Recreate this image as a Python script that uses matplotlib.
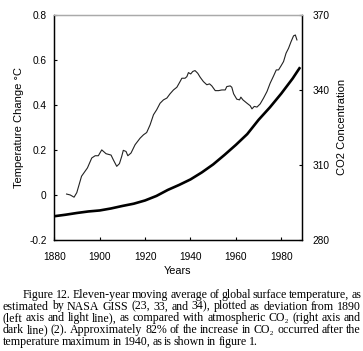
import numpy as np
import matplotlib
matplotlib.use("Agg")
import matplotlib.pyplot as plt

# temperature change (11-yr moving average), deg C, left axis
temp_years = [1885.4, 1887.0, 1888.7, 1889.9, 1892.0, 1894.6, 1896.5, 1898.0, 1899.4, 1900.9,
              1902.8, 1905.0, 1906.0, 1907.5, 1908.7, 1909.7, 1910.4, 1911.6, 1912.4, 1913.8,
              1915.6, 1917.8, 1919.3, 1920.7, 1922.2, 1923.7, 1925.1, 1926.6, 1928.1, 1929.6,
              1931.0, 1932.5, 1934.0, 1935.4, 1936.2, 1937.6, 1938.4, 1939.1, 1940.1, 1941.0,
              1942.0, 1943.2, 1944.3, 1945.7, 1947.2, 1948.4, 1949.4, 1950.9, 1952.4, 1953.8,
              1955.3, 1956.0, 1957.5, 1958.2, 1959.0, 1960.4, 1961.6, 1962.2, 1963.1, 1964.9,
              1966.3, 1967.1, 1968.1, 1969.3, 1970.7, 1972.2, 1973.7, 1975.1, 1976.6, 1977.8,
              1978.8, 1979.9, 1981.0, 1982.1, 1983.2, 1984.3, 1985.4, 1986.2, 1986.9]
temp_vals = [0.004, 0.0, -0.01, 0.01, 0.083, 0.12, 0.164, 0.174, 0.174, 0.2,
             0.183, 0.177, 0.156, 0.127, 0.139, 0.171, 0.198, 0.193, 0.174, 0.186,
             0.223, 0.252, 0.267, 0.277, 0.311, 0.356, 0.378, 0.407, 0.422, 0.43,
             0.449, 0.466, 0.478, 0.503, 0.518, 0.518, 0.525, 0.543, 0.537, 0.548,
             0.552, 0.54, 0.522, 0.503, 0.489, 0.493, 0.484, 0.463, 0.463, 0.466,
             0.466, 0.481, 0.484, 0.478, 0.449, 0.425, 0.422, 0.434, 0.422, 0.407,
             0.396, 0.382, 0.393, 0.39, 0.404, 0.43, 0.459, 0.496, 0.528, 0.555,
             0.555, 0.573, 0.592, 0.629, 0.651, 0.68, 0.706, 0.71, 0.688]

# atmospheric CO2, ppm, right axis
co2_years = [1880, 1885, 1890, 1895, 1900, 1905, 1910, 1915, 1920, 1925, 1930,
             1935, 1940, 1945, 1950, 1955, 1960, 1965, 1970, 1975, 1980, 1985, 1988]
co2_vals = [289.5, 290.1, 290.8, 291.4, 291.8, 292.6, 293.6, 294.5, 295.8, 297.6, 300.0,
            302.0, 304.2, 307.0, 310.2, 314.0, 318.0, 322.3, 328.0, 333.0, 338.5, 344.5, 348.6]

x_ticks = [1880, 1900, 1920, 1940, 1960, 1980]
left_ticks = [-0.2, 0, 0.2, 0.4, 0.6, 0.8]
left_labels = ["-0.2", "0", "0.2", "0.4", "0.6", "0.8"]
right_ticks = [280, 310, 340, 370]

caption = [
    "Figure 12.  Eleven-year moving average of global surface temperature, as",
    "estimated by NASA GISS (23, 33, and 34), plotted as deviation from 1890",
    "(left axis and light line), as compared with atmospheric CO\u2082 (right axis and",
    "dark line) (2). Approximately 82% of the increase in CO\u2082 occurred after the",
    "temperature maximum in 1940, as is shown in figure 1.",
]

plt.rcParams['font.family'] = ['Liberation Sans', 'DejaVu Sans']

W, H = 363, 351
fig = plt.figure(figsize=(W / 100, H / 100), dpi=100)
ax = fig.add_axes([54.3 / W, 1 - 240 / H, (301.7 - 54.3) / W, (240 - 14.7) / H])
ax2 = ax.twinx()

ax.plot(temp_years, temp_vals, color='#222222', lw=0.8)
ax2.plot(co2_years, co2_vals, color='black', lw=1.9)

ax.set_xlim(1880, 1989)
ax.set_ylim(-0.2, 0.8)
ax2.set_ylim(280, 370)

ax.set_xticks(x_ticks)
ax.set_yticks(left_ticks)
ax.set_yticklabels(left_labels)
ax2.set_yticks(right_ticks)

for a in (ax, ax2):
    a.tick_params(direction='in', length=2.5, width=0.8, labelsize=7.3)
    for s in a.spines.values():
        s.set_linewidth(0.9)
    a.spines['top'].set_color('#aaaaaa')
ax.tick_params(axis='y', right=False, pad=5.5)
ax.tick_params(axis='x', pad=9)
ax2.tick_params(axis='y', pad=8)

ax.set_xlabel("Years", fontsize=7.8, labelpad=2.5)
ax.set_ylabel("Temperature Change \u00b0C", fontsize=8, labelpad=3.5)
ax2.set_ylabel("CO2 Concentration", fontsize=8, labelpad=5)

# caption, justified word by word
renderer = fig.canvas.get_renderer()
cap_font = dict(family=['Liberation Serif', 'DejaVu Serif'], fontsize=8.55)
left_px, right_px = 2.5, 361.0
line_y = [295, 306.5, 318, 330, 342]
for i, line in enumerate(caption):
    x0 = 22.7 if i == 0 else left_px
    words = line.split(" ")
    txts = [fig.text(0, 0, w, va='center', ha='left', **cap_font) for w in words if w]
    widths = [t.get_window_extent(renderer).width for t in txts]
    if i < len(caption) - 1:
        gap = (right_px - x0 - sum(widths)) / (len(txts) - 1)
    else:
        gap = 2.0
    x = x0
    for t, w in zip(txts, widths):
        t.set_position((x / W, 1 - line_y[i] / H))
        x += w + gap

fig.savefig("out.png", dpi=100)
